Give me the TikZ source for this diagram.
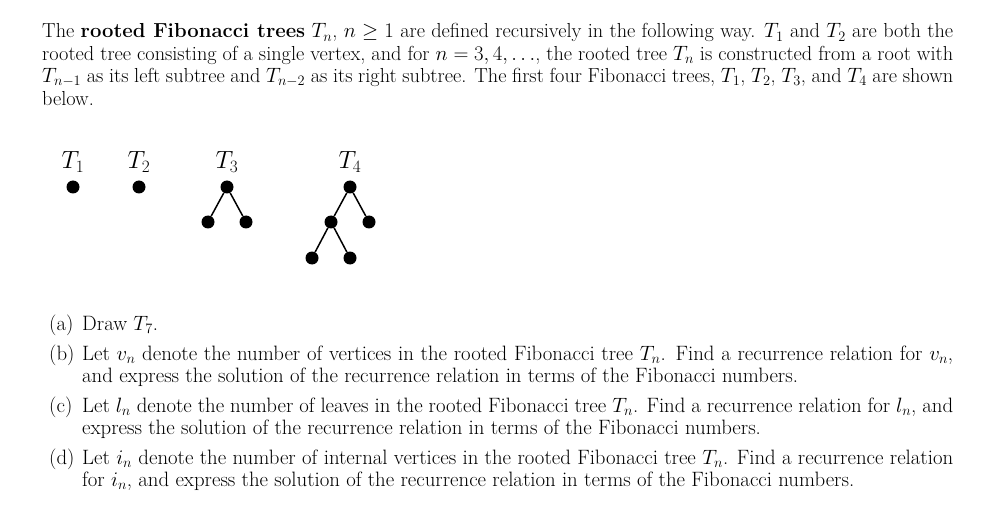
\documentclass[tikz,border=0pt]{standalone}
\usepackage{amsmath,amssymb}
\begin{document}
\begin{tikzpicture}[x=1pt,y=-1pt,
  vtx/.style={circle,fill=black,inner sep=0pt,minimum size=13pt},
  edge/.style={line width=1.5pt},
  txt/.style={anchor=base west,inner sep=0pt,font=\fontsize{20.3}{22.4}\selectfont,align=justify},
  itxt/.style={txt,font=\fontsize{20.8}{22.6}\selectfont},
  lbl/.style={font=\fontsize{24}{26}\selectfont,inner sep=0pt}]
\useasboundingbox (0,0) rectangle (997,508);
\node[txt,text width=911pt] (p) at (42,38) {The \textbf{rooted Fibonacci trees} $T_n$, $n\geq 1$ are defined recursively in the following way. $T_1$ and $T_2$ are both the rooted tree consisting of a single vertex, and for $n=3,4,\ldots$, the rooted tree $T_n$ is constructed from a root with $T_{n-1}$ as its left subtree and $T_{n-2}$ as its right subtree. The first four Fibonacci trees, $T_1$, $T_2$, $T_3$, and $T_4$ are shown below.};
% trees
\node[lbl] (l1) at (73,162) {$T_1$};
\node[lbl] (l2) at (139,162) {$T_2$};
\node[lbl] (l3) at (227,162) {$T_3$};
\node[lbl] (l4) at (350,162) {$T_4$};
\node[vtx] (a) at (73,187) {};
\node[vtx] (b) at (139,187) {};
\node[vtx] (c) at (227,187) {};
\node[vtx] (cl) at (208,222) {};
\node[vtx] (cr) at (246,222) {};
\node[vtx] (d) at (350,187) {};
\node[vtx] (dl) at (331,222) {};
\node[vtx] (dr) at (369,222) {};
\node[vtx] (dll) at (312,258) {};
\node[vtx] (dlr) at (350,258) {};
\draw[edge] (c)--(cl) (c)--(cr) (d)--(dl) (d)--(dr) (dl)--(dll) (dl)--(dlr);
% items
\node[itxt] (ia) at (49,330) {(a)};
\node[itxt] (ta) at (82,330) {Draw $T_7$.};
\node[itxt] (ib) at (49,360) {(b)};
\node[itxt,text width=871pt] (tb) at (82,360) {Let $v_n$ denote the number of vertices in the rooted Fibonacci tree $T_n$. Find a recurrence relation for $v_n$, and express the solution of the recurrence relation in terms of the Fibonacci numbers.};
\node[itxt] (ic) at (49,412) {(c)};
\node[itxt,text width=871pt] (tc) at (82,412) {Let $l_n$ denote the number of leaves in the rooted Fibonacci tree $T_n$. Find a recurrence relation for $l_n$, and express the solution of the recurrence relation in terms of the Fibonacci numbers.};
\node[itxt] (id) at (49,464) {(d)};
\node[itxt,text width=871pt] (td) at (82,464) {Let $i_n$ denote the number of internal vertices in the rooted Fibonacci tree $T_n$. Find a recurrence relation for $i_n$, and express the solution of the recurrence relation in terms of the Fibonacci numbers.};
\end{tikzpicture}
\end{document}
